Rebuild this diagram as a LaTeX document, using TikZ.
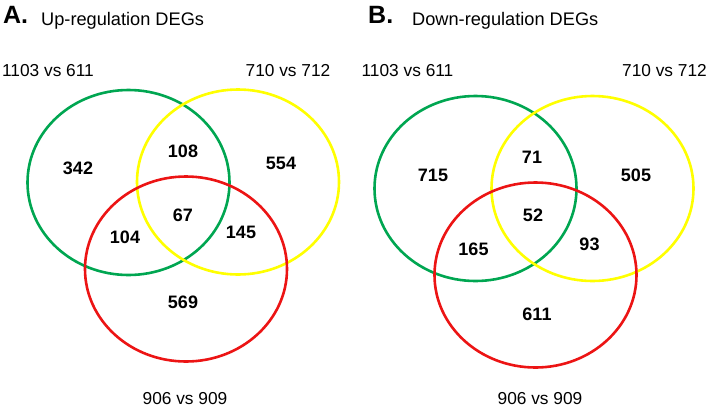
\documentclass[tikz,border=0pt]{standalone}
\usepackage{fontspec}
\setmainfont{Liberation Sans}
\definecolor{vgreen}{RGB}{0,166,81}
\definecolor{vyellow}{RGB}{255,255,0}
\definecolor{vred}{RGB}{236,20,20}
\begin{document}
\begin{tikzpicture}[x=1pt,y=-1pt,
  setring/.style={line width=2.6pt},
  num/.style={inner sep=0pt,font=\fontsize{18}{20}\selectfont\bfseries},
  lab/.style={inner sep=0pt,font=\fontsize{17.3}{19}\selectfont},
  ttl/.style={inner sep=0pt,anchor=base west,font=\fontsize{18.2}{20}\selectfont},
  pnl/.style={inner sep=0pt,anchor=base west,font=\fontsize{25}{28}\selectfont\bfseries}]
\useasboundingbox (0,0) rectangle (710,408);
% Panel A
\node[pnl] (pA) at (3,23) {A.};
\node[ttl] (tA) at (41,25) {Up-regulation DEGs};
\node[lab] (lA1) at (48,71) {1103 vs 611};
\node[lab] (lA2) at (288,71) {710 vs 712};
\node[lab] (lA3) at (185,399) {906 vs 909};
\draw[setring,vgreen] (128.5,182.5) ellipse [x radius=101, y radius=92.5];
\draw[setring,vyellow] (238,182) ellipse [x radius=101, y radius=92.5];
\draw[setring,vred] (186,269) ellipse [x radius=101, y radius=92.5];
\node[num] (a1) at (78,168) {342};
\node[num] (a2) at (183,151.5) {108};
\node[num] (a3) at (281,163) {554};
\node[num] (a4) at (183,215.5) {67};
\node[num] (a5) at (125,237.5) {104};
\node[num] (a6) at (241,232) {145};
\node[num] (a7) at (183,302) {569};
% Panel B
\node[pnl] (pB) at (368,23) {B.};
\node[ttl] (tB) at (412,25) {Down-regulation DEGs};
\node[lab] (lB1) at (407.5,71) {1103 vs 611};
\node[lab] (lB2) at (664.5,71) {710 vs 712};
\node[lab] (lB3) at (540,399) {906 vs 909};
\draw[setring,vgreen] (475.5,188.5) ellipse [x radius=101, y radius=92.5];
\draw[setring,vyellow] (592.5,188.5) ellipse [x radius=101, y radius=92.5];
\draw[setring,vred] (535.5,275) ellipse [x radius=101, y radius=92.5];
\node[num] (b1) at (433,175) {715};
\node[num] (b2) at (532,157) {71};
\node[num] (b3) at (636,175) {505};
\node[num] (b4) at (533,215.5) {52};
\node[num] (b5) at (473.5,249.5) {165};
\node[num] (b6) at (589.5,244) {93};
\node[num] (b7) at (537,314) {611};
\end{tikzpicture}
\end{document}
